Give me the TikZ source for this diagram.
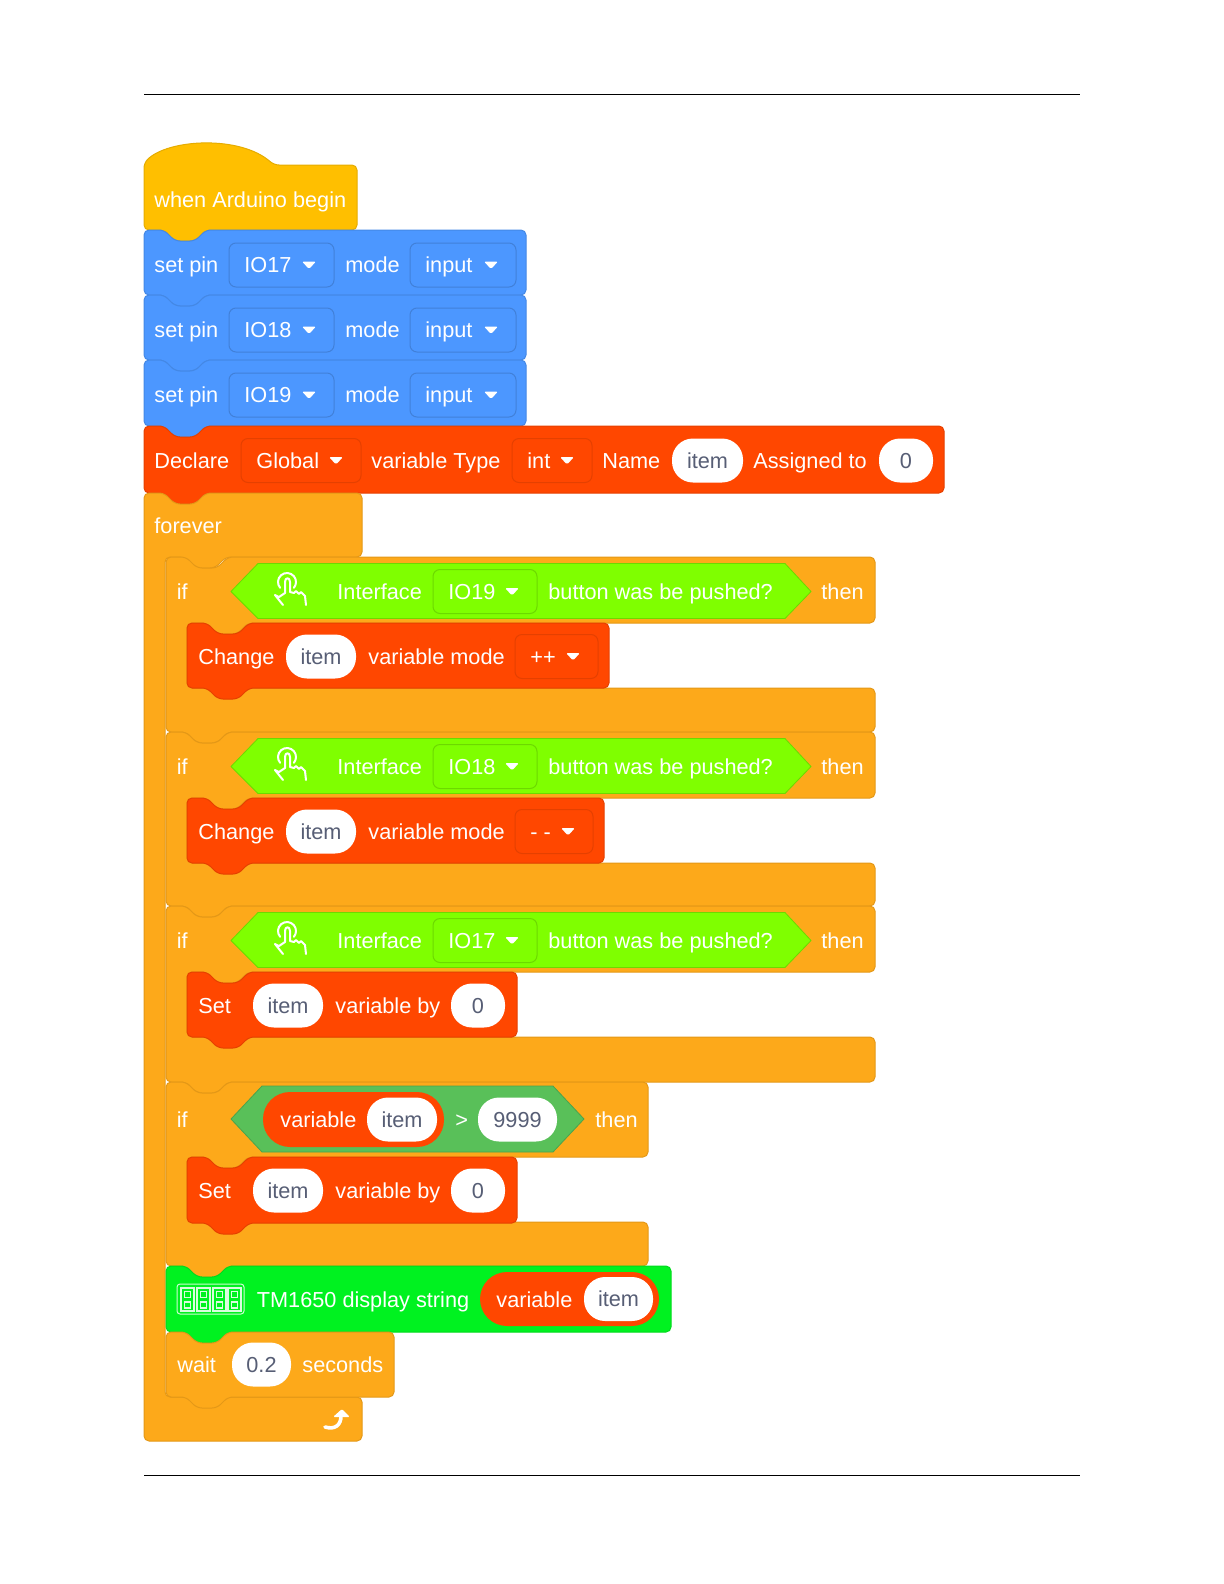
\documentclass[tikz,border=0pt]{standalone}
\usepackage{fontspec}
\setmainfont{Liberation Sans}
\usepackage{xcolor}
\usetikzlibrary{calc}

\definecolor{hatyellow}{HTML}{FFBF00}
\definecolor{pinblue}{HTML}{4C97FF}
\definecolor{varred}{HTML}{FF4700}
\definecolor{ctrlorange}{HTML}{FDA91A}
\definecolor{btnlime}{HTML}{7FFF00}
\definecolor{tmgreen}{HTML}{00F220}
\definecolor{cmpgreen}{HTML}{59C059}
\definecolor{pilltext}{HTML}{575E75}

\tikzset{
  basetxt/.style={inner sep=0pt, font=\fontsize{10.85}{13}\selectfont, text height=7.5pt, text depth=0pt},
  lbl/.style={basetxt, anchor=west, text=white, xshift=-0.5pt},
  pilllbl/.style={basetxt, anchor=center, text=pilltext},
  blockfill/.style={fill=#1, draw=#1!90!black, line width=0.5pt, rounded corners=2.5pt, line join=round},
  fieldbox/.style={draw=#1, line width=0.5pt, rounded corners=3.5pt},
  pillbox/.style={fill=white, rounded corners=10.5pt},
}

% x1 y1 x2 y2 colour
\newcommand{\stackblock}[5]{
  \draw[blockfill=#5] (#1,#2) -- (#1+20,#2) -- (#1+31,#2+11) -- (#1+51,#2+11) -- (#1+62,#2) -- (#3,#2) -- (#3,#4)
    -- (#1+62,#4) -- (#1+51,#4+11) -- (#1+31,#4+11) -- (#1+20,#4) -- (#1,#4) -- cycle;
}
% x1 top x2 headbottom stripetop bottom
\newcommand{\ifblock}[6]{
  \draw[blockfill=ctrlorange] (#1,#2) -- (#1+20,#2) -- (#1+31,#2+11) -- (#1+51,#2+11) -- (#1+62,#2) -- (#3,#2) -- (#3,#4)
    -- (#1+82,#4) -- (#1+71,#4+11) -- (#1+51,#4+11) -- (#1+40,#4) -- (#1+21,#4) -- (#1+21,#5) -- (#3,#5) -- (#3,#6)
    -- (#1+62,#6) -- (#1+51,#6+11) -- (#1+31,#6+11) -- (#1+20,#6) -- (#1,#6) -- cycle;
}
\newcommand{\lbltext}[3]{\node[lbl] (t#1x#2) at (#1,#2) {#3};}
\newcommand{\ddarrow}[2]{\fill[white, rounded corners=0.7pt] (#1-7,#2-3.5) -- (#1+7,#2-3.5) -- (#1,#2+4) -- cycle;}
% x1 x2 y outline text
\newcommand{\ddfield}[5]{
  \draw[fieldbox=#4] (#1,#3-22) rectangle (#2,#3+22);
  \node[lbl] (f#1x#3) at (#1+16,#3) {#5};
  \ddarrow{#2-25}{#3}
}
\newcommand{\pillfield}[4]{
  \fill[pillbox] (#1,#3-22) rectangle (#2,#3+22);
  \node[pilllbl] (p#1x#3) at ({(#1+#2)/2},#3) {#4};
}

\begin{document}
\begin{tikzpicture}[x=0.5pt, y=-0.5pt]
  \useasboundingbox (0,0) rectangle (1224,1584);
  \coordinate (rulea) at (144,94.5);
  \coordinate (ruleb) at (1080,94.5);
  \coordinate (rulec) at (144,1475);
  \coordinate (ruled) at (1080,1475);
  \draw[line width=0.5pt] (rulea) -- (ruleb);
  \draw[line width=0.5pt] (rulec) -- (ruled);

  % hat
  \draw[blockfill=hatyellow] (144,230) -- (144,163) .. controls (168,139) and (240,135) .. (274,165) -- (357,165) -- (357,230)
    -- (206,230) -- (195,241) -- (175,241) -- (164,230) -- cycle;
  \lbltext{155}{200}{when Arduino begin}

  % pins
  \foreach \y/\e/\p in {230/295/IO17,295/360/IO18,360/426/IO19}{
    \stackblock{144}{\y}{526}{\e}{pinblue}
    \pgfmathsetmacro{\c}{\y+35}
    \lbltext{155}{\c}{set pin}
    \ddfield{229}{334}{\c}{pinblue!85!black}{\p}
    \lbltext{346}{\c}{mode}
    \ddfield{410}{516}{\c}{pinblue!85!black}{input}
  }

  % declare
  \stackblock{144}{426}{944}{493}{varred}
  \lbltext{155}{460.5}{Declare}
  \ddfield{241}{361}{460.5}{varred!90!black}{Global}
  \lbltext{372}{460.5}{variable Type}
  \ddfield{512}{592}{460.5}{varred!90!black}{int}
  \lbltext{603}{460.5}{Name}
  \pillfield{672}{743}{460.5}{item}
  \lbltext{754}{460.5}{Assigned to}
  \pillfield{879}{933}{460.5}{0}

  % forever
  \draw[blockfill=ctrlorange] (144,493) -- (164,493) -- (175,504) -- (195,504) -- (206,493) -- (362,493) -- (362,557)
    -- (226,557) -- (215,568) -- (195,568) -- (184,557) -- (165,557) -- (165,1397) -- (362,1397) -- (362,1441) -- (144,1441) -- cycle;
  \lbltext{155}{526}{forever}
  \draw[white, line width=1.8pt, line cap=round] (325,1427) .. controls (335,1430) and (341,1425) .. (341,1416);
  \fill[white, rounded corners=0.7pt] (333,1417) -- (342,1409) -- (350,1417) -- cycle;

  % button ifs
  \foreach \y/\e/\p in {557/732/IO19,732/906/IO18,906/1082/IO17}{
    \pgfmathsetmacro{\h}{\y+66}
    \pgfmathsetmacro{\s}{\y+131}
    \pgfmathsetmacro{\c}{\y+34.5}
    \ifblock{166}{\y}{875}{\h}{\s}{\e}
    \lbltext{177.5}{\c}{if}
    \lbltext{822}{\c}{then}
    \draw[fill=btnlime, draw=btnlime!85!black, line width=0.4pt, line join=round] (231,\c) -- (258,\c-28) -- (785,\c-28) -- (811,\c) -- (785,\c+27) -- (258,\c+27) -- cycle;
    \begin{scope}[shift={(0,\y-557)}, white, line width=1pt, line cap=round, line join=round]
      \draw (285,593) -- (285,582) .. controls (285,577) and (290,577) .. (290,582) -- (290,592) -- (294,593) -- (296,591)
        -- (299,594) -- (301,592) -- (305,596) -- (306,605);
      \draw (285,593) -- (279,597) -- (275,595) -- (283,605);
      \draw (280.1,587.8) arc[start angle=140, end angle=400, radius=9];
    \end{scope}
    \lbltext{338}{\c}{Interface}
    \ddfield{433}{537}{\c}{btnlime!85!black}{\p}
    \lbltext{549}{\c}{button was be pushed?}
  }

  % inner change and set blocks
  \stackblock{187}{623}{609}{688}{varred}
  \lbltext{199}{656.5}{Change}
  \pillfield{286}{356}{656.5}{item}
  \lbltext{369}{656.5}{variable mode}
  \ddfield{515}{598}{656.5}{varred!90!black}{++}
  \stackblock{187}{798}{604}{863}{varred}
  \lbltext{199}{831.5}{Change}
  \pillfield{286}{356}{831.5}{item}
  \lbltext{369}{831.5}{variable mode}
  \ddfield{515}{593}{831.5}{varred!90!black}{- -}
  \stackblock{187}{972}{517}{1037}{varred}
  \lbltext{199}{1005.5}{Set}
  \pillfield{253}{323}{1005.5}{item}
  \lbltext{336}{1005.5}{variable by}
  \pillfield{451}{505}{1005.5}{0}

  % compare if
  \ifblock{166}{1082}{648}{1157}{1222}{1266}
  \lbltext{177.5}{1119.5}{if}
  \lbltext{596}{1119.5}{then}
  \draw[fill=cmpgreen, draw=cmpgreen!85!black, line width=0.4pt, line join=round] (231,1119) -- (262,1086) -- (553,1086) -- (584,1119) -- (553,1152) -- (262,1152) -- cycle;
  \fill[varred, rounded corners=13.5pt] (263,1092) rectangle (444,1147);
  \lbltext{281}{1119.5}{variable}
  \pillfield{367}{437}{1119.5}{item}
  \lbltext{456}{1119.5}{>}
  \pillfield{478}{557}{1119.5}{9999}
  \stackblock{187}{1157}{517}{1223}{varred}
  \lbltext{199}{1190.5}{Set}
  \pillfield{253}{323}{1190.5}{item}
  \lbltext{336}{1190.5}{variable by}
  \pillfield{451}{505}{1190.5}{0}

  % display block
  \stackblock{166}{1266}{671}{1332}{tmgreen}
  \draw[white!80!tmgreen, line width=0.5pt, rounded corners=1.5pt] (177,1284) rectangle (244,1314);
  \foreach \d in {181,197,213,228}{
    \draw[white!85!tmgreen, line width=0.6pt] (\d,1288) rectangle (\d+13,1311);
    \draw[white!85!tmgreen, line width=0.6pt] (\d+3.5,1291.5) rectangle (\d+9.5,1297.5);
    \draw[white!85!tmgreen, line width=0.6pt] (\d+3.5,1302) rectangle (\d+9.5,1308);
  }
  \lbltext{257.5}{1299.5}{TM1650 display string}
  \fill[varred, rounded corners=13.5pt] (480,1272) rectangle (659,1326);
  \lbltext{497}{1299.5}{variable}
  \pillfield{584}{653}{1299}{item}

  % wait
  \stackblock{166}{1332}{394}{1397}{ctrlorange}
  \lbltext{178}{1365}{wait}
  \pillfield{232}{291}{1364.5}{0.2}
  \lbltext{303}{1365}{seconds}
\end{tikzpicture}
\end{document}
